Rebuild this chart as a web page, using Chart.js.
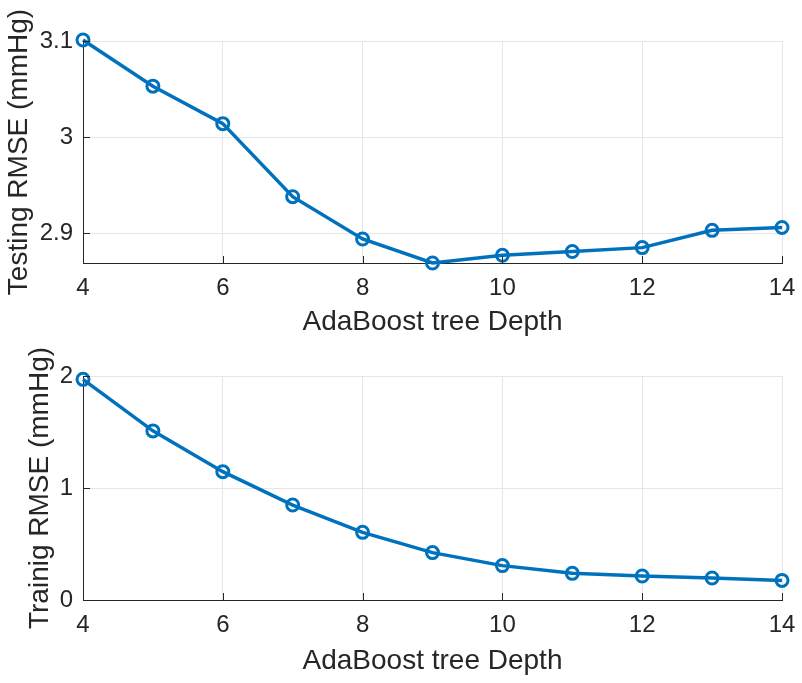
<!DOCTYPE html>
<html>
<head>
<meta charset="utf-8">
<script src="https://cdn.jsdelivr.net/npm/chart.js@4/dist/chart.umd.min.js"></script>
<style>
  html, body { margin: 0; padding: 0; background: #fff; }
  .panel { position: absolute; left: 0; width: 802px; }
  #top { top: 0; height: 340px; }
  #bottom { top: 340px; height: 343px; }
</style>
</head>
<body>
<div class="panel" id="top"><canvas id="grafica_1"></canvas></div>
<div class="panel" id="bottom"><canvas id="grafica_2"></canvas></div>
<script>
const profundidad = [4, 5, 6, 7, 8, 9, 10, 11, 12, 13, 14];
const rmseTest = [3.101, 3.053, 3.014, 2.938, 2.894, 2.869, 2.877, 2.881, 2.885, 2.903, 2.906];
const rmseTrain = [1.97, 1.51, 1.146, 0.848, 0.604, 0.423, 0.307, 0.238, 0.214, 0.196, 0.175];
const ticksX = [4, 6, 8, 10, 12, 14];
const ticksTest = [2.9, 3, 3.1];
const ticksTrain = [0, 1, 2];

const azul = '#0072BD';
const ejeColor = '#262626';
const gridColor = '#e6e6e6';
const fuente = "'Liberation Sans', Arial, Helvetica, sans-serif";

// ticks hacia dentro como en MATLAB
const ticksInternos = {
    id: 'ticksInternos',
    afterDatasetsDraw(chart) {
        const ctx = chart.ctx;
        const area = chart.chartArea;
        const largo = 7;
        ctx.save();
        ctx.strokeStyle = ejeColor;
        ctx.lineWidth = 1;
        ctx.beginPath();
        chart.scales.x.ticks.forEach(t => {
            const px = Math.round(chart.scales.x.getPixelForValue(t.value)) + 0.5;
            ctx.moveTo(px, area.bottom);
            ctx.lineTo(px, area.bottom - largo);
        });
        chart.scales.y.ticks.forEach(t => {
            const py = Math.round(chart.scales.y.getPixelForValue(t.value)) + 0.5;
            ctx.moveTo(area.left, py);
            ctx.lineTo(area.left + largo, py);
        });
        ctx.stroke();
        ctx.restore();
    }
};

function crearGrafica(canvas, datos, ticksY, yMin, yMax, etiquetaY, cfg) {
    return new Chart(canvas, {
        type: 'line',
        data: {
            labels: profundidad,
            datasets: [{
                data: profundidad.map((x, i) => ({ x: x, y: datos[i] })),
                borderColor: azul,
                borderWidth: 3.5,
                pointRadius: 6,
                pointHoverRadius: 6,
                pointBorderWidth: 3,
                pointBorderColor: azul,
                pointBackgroundColor: 'rgba(0,0,0,0)',
                tension: 0,
                clip: false
            }]
        },
        options: {
            responsive: true,
            maintainAspectRatio: false,
            animation: false,
            layout: {
                padding: { top: cfg.top, right: 20, left: 0, bottom: 0 }
            },
            plugins: {
                legend: { display: false },
                tooltip: { enabled: false }
            },
            scales: {
                x: {
                    type: 'linear',
                    min: 4,
                    max: 14,
                    afterBuildTicks: s => { s.ticks = ticksX.map(v => ({ value: v })); },
                    afterFit: s => { s.height = cfg.altoX; s.paddingLeft = 0; s.paddingRight = 0; },
                    grid: { color: gridColor, drawTicks: false },
                    border: { display: true, color: ejeColor, width: 1 },
                    ticks: {
                        color: ejeColor,
                        padding: 11,
                        maxRotation: 0,
                        font: { family: fuente, size: 24 }
                    },
                    title: {
                        display: true,
                        text: 'AdaBoost tree Depth',
                        color: ejeColor,
                        padding: { top: 0, bottom: cfg.padTituloX },
                        font: { family: fuente, size: 28 }
                    }
                },
                y: {
                    type: 'linear',
                    min: yMin,
                    max: yMax,
                    afterBuildTicks: s => { s.ticks = ticksY.map(v => ({ value: v })); },
                    afterFit: s => { s.width = 83; s.paddingTop = 0; s.paddingBottom = 0; },
                    grid: { color: gridColor, drawTicks: false },
                    border: { display: true, color: ejeColor, width: 1 },
                    ticks: {
                        color: ejeColor,
                        padding: 10,
                        font: { family: fuente, size: 24 },
                        callback: v => String(v)
                    },
                    title: {
                        display: true,
                        text: etiquetaY,
                        color: ejeColor,
                        padding: { top: cfg.padTituloY, bottom: 0 },
                        font: { family: fuente, size: 28 }
                    }
                }
            }
        },
        plugins: [ticksInternos]
    });
}

document.addEventListener('DOMContentLoaded', function() {
    crearGrafica(document.getElementById('grafica_1'), rmseTest, ticksTest, 2.869, 3.1,
        'Testing RMSE (mmHg)', { top: 41, altoX: 77, padTituloX: 1, padTituloY: 2 });
    crearGrafica(document.getElementById('grafica_2'), rmseTrain, ticksTrain, 0, 2,
        'Trainig RMSE (mmHg)', { top: 36, altoX: 83, padTituloX: 5, padTituloY: 23 });
});
</script>
</body>
</html>
